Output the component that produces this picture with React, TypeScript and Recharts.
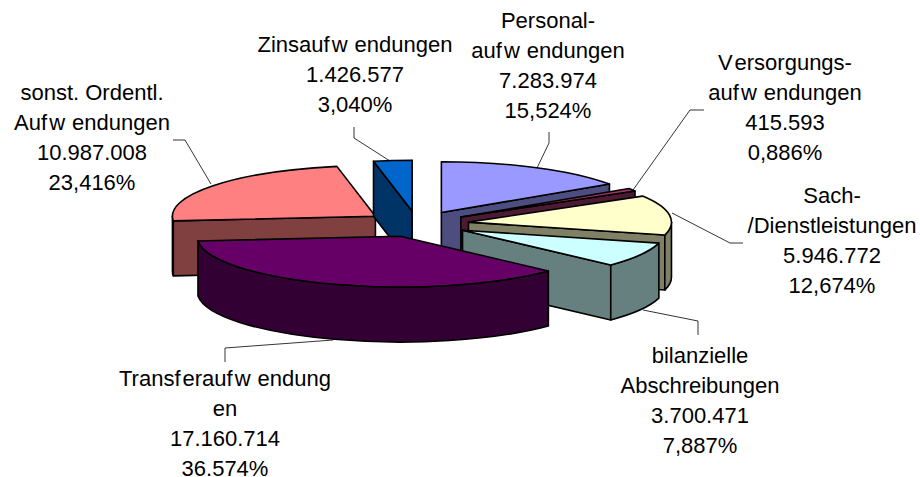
import { PieChart, Pie } from 'recharts'

// clockwise, starting with the slice that has to be painted first
const names = [
  'sonst. Ordentl. Aufwendungen',
  'Zinsaufwendungen',
  'Personalaufwendungen',
  'Versorgungsaufwendungen',
  'Sach-/Dienstleistungen',
  'bilanzielle Abschreibungen',
  'Transferaufwendungen',
]
const values = [10987008, 1426577, 7283974, 415593, 5946772, 3700471, 17160714]
const colors = ['#FF8080', '#0066CC', '#9999FF', '#993366', '#FFFFCC', '#CCFFFF', '#660066']
const sideColors = ['#804040', '#003366', '#4D4D80', '#4D1A33', '#808066', '#668080', '#330033']

const labelLines = [
  ['sonst. Ordentl.', 'Aufwendungen', '10.987.008', '23,416%'],
  ['Zinsaufwendungen', '1.426.577', '3,040%'],
  ['Personal-', 'aufwendungen', '7.283.974', '15,524%'],
  ['Versorgungs-', 'aufwendungen', '415.593', '0,886%'],
  ['Sach-', '/Dienstleistungen', '5.946.772', '12,674%'],
  ['bilanzielle', 'Abschreibungen', '3.700.471', '7,887%'],
  ['Transferaufwendung', 'en', '17.160.714', '36.574%'],
]

// label anchor (centre x, first baseline) and leader line, same order as names
const labelX = [92, 355, 548, 785, 832, 700, 225]
const labelY = [100, 52, 28, 70, 203, 363, 385.5]
const leaders = [
  '173,140 185,140 211,184',
  '354,127 354,138 390,161',
  '549,132 549,143 537,168',
  '704,110 690,110 633,190',
  '672,213 730,243 743,243',
  '643,310 698,321 698,335',
  '225,362 225,348 333,340',
]

const chartData = names.map((name, i) => ({
  name,
  value: values[i],
  fill: colors[i],
  side: sideColors[i],
}))

const TILT = 0.25
const DEPTH = 55
const EXPLODE = 52
const FONT = '"Liberation Sans", Arial, sans-serif'

const rad = (d: number) => (d * Math.PI) / 180

// t = degrees clockwise from 12 o'clock
function Slice3D(props: any) {
  const { cx, cy, outerRadius: r, startAngle, endAngle, fill, payload } = props
  const t0 = 90 - startAngle
  const t1 = 90 - endAngle
  const mid = rad((t0 + t1) / 2)
  const ax = cx + EXPLODE * Math.sin(mid)
  const ay = cy - EXPLODE * TILT * Math.cos(mid)
  const at = (t: number) => [ax + r * Math.sin(rad(t)), ay - r * TILT * Math.cos(rad(t))]
  const [x0, y0] = at(t0)
  const [x1, y1] = at(t1)
  const rim = (t: number) => ((t % 360) + 360) % 360

  const parts: any[] = []
  const common = { stroke: '#000', strokeWidth: 1.6, strokeLinejoin: 'round' as const }
  if (rim(t0) > 180) {
    parts.push(
      <polygon key="cut0" points={`${ax},${ay} ${x0},${y0} ${x0},${y0 + DEPTH} ${ax},${ay + DEPTH}`} fill={payload.side} {...common} />,
    )
  }
  if (rim(t1) > 0 && rim(t1) < 180) {
    parts.push(
      <polygon key="cut1" points={`${ax},${ay} ${x1},${y1} ${x1},${y1 + DEPTH} ${ax},${ay + DEPTH}`} fill={payload.side} {...common} />,
    )
  }
  // outer wall, only the part on the front half of the rim
  for (const [lo, hi] of [[90, 270], [450, 630]]) {
    const a = Math.max(lo, t0)
    const b = Math.min(hi, t1)
    if (b <= a) continue
    const [wx0, wy0] = at(a)
    const [wx1, wy1] = at(b)
    parts.push(
      <path
        key={`wall${lo}`}
        d={`M${wx0},${wy0} A${r},${r * TILT} 0 0 1 ${wx1},${wy1} L${wx1},${wy1 + DEPTH} A${r},${r * TILT} 0 0 0 ${wx0},${wy0 + DEPTH} Z`}
        fill={payload.side}
        {...common}
      />,
    )
  }
  const large = t1 - t0 > 180 ? 1 : 0
  parts.push(
    <path
      key="top"
      d={`M${ax},${ay} L${x0},${y0} A${r},${r * TILT} 0 ${large} 1 ${x1},${y1} Z`}
      fill={fill}
      {...common}
    />,
  )
  return <g>{parts}</g>
}

// the old export spaced these letters out, keep the gaps without breaking the word
function Spaced({ line }: { line: string }) {
  const bits = line.split(/(?<=[fwV])/)
  return (
    <>
      {bits.map((bit, i) => (
        <tspan key={i} dx={i === 0 ? 0 : bits[i - 1].endsWith('w') ? 7 : bits[i - 1].endsWith('V') ? 3 : 2}>
          {bit}
        </tspan>
      ))}
    </>
  )
}

function SliceLabel(props: any) {
  const i = props.index
  return (
    <g>
      <polyline points={leaders[i]} fill="none" stroke="#000" strokeWidth={0.8} />
      {labelLines[i].map((line, n) => (
        <text
          key={n}
          x={labelX[i]}
          y={labelY[i] + n * 30}
          textAnchor="middle"
          fontFamily={FONT}
          fontSize={22}
          fill="#000"
        >
          <Spaced line={line} />
        </text>
      ))}
    </g>
  )
}

export default function App() {
  return (
    <div style={{ position: 'absolute', left: 0, top: 0, width: 920, height: 477, background: '#fff' }}>
      <PieChart width={920} height={477} margin={{ top: 0, right: 0, bottom: 0, left: 0 }}>
        <Pie
          data={chartData}
          dataKey="value"
          nameKey="name"
          cx={417}
          cy={224}
          innerRadius={0}
          outerRadius={203}
          startAngle={-174.76}
          endAngle={-534.76}
          shape={Slice3D}
          label={SliceLabel}
          labelLine={false}
          isAnimationActive={false}
        />
      </PieChart>
    </div>
  )
}
